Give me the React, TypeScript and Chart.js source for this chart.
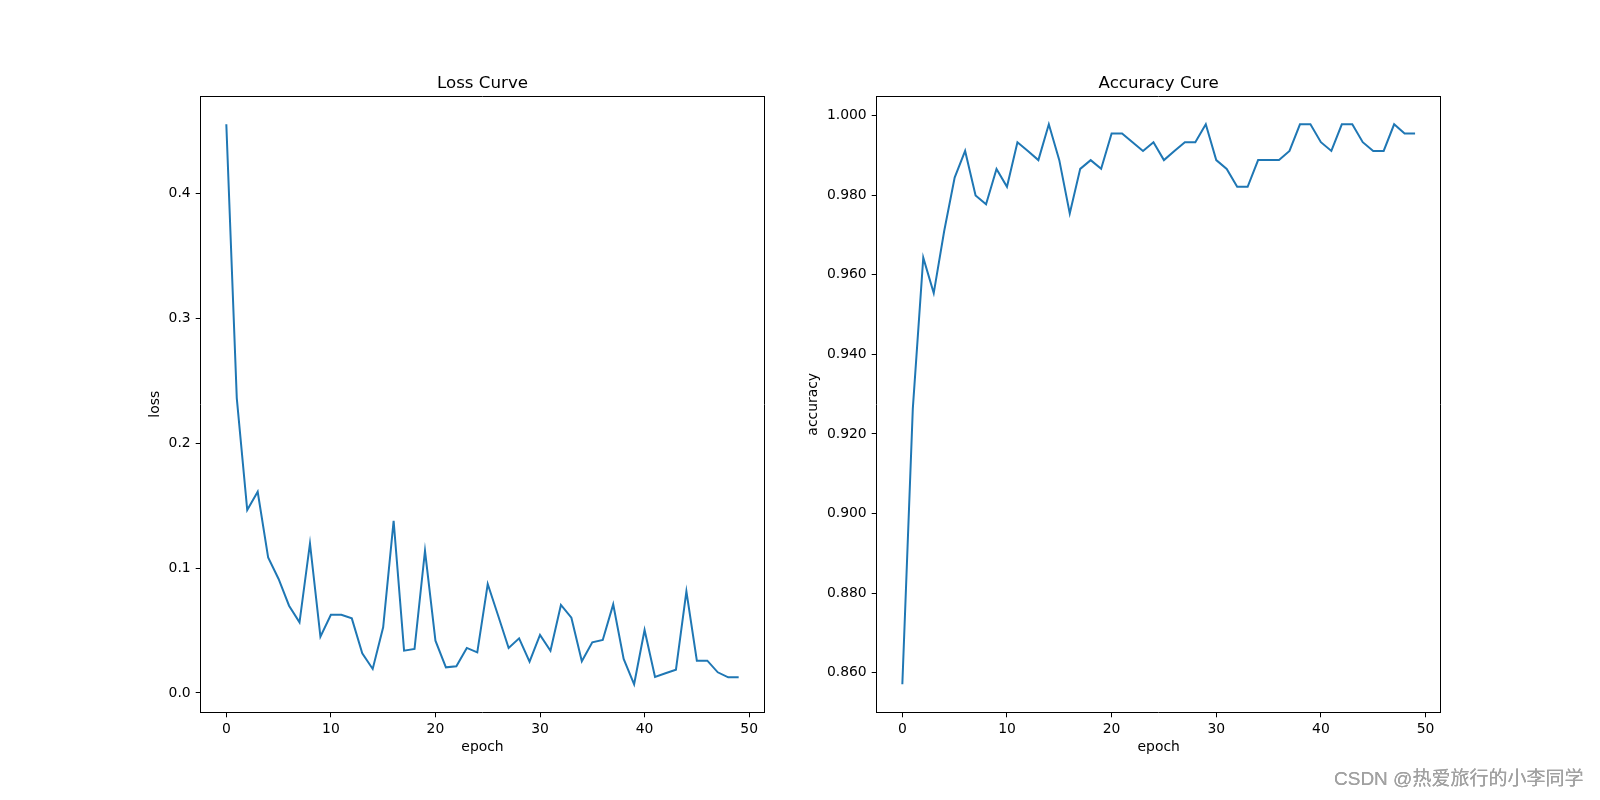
import React, { useEffect, useRef } from "react";
import { Chart, registerables } from "chart.js";

Chart.register(...registerables);

// ---------- data ----------
const epochs = [
  0, 1, 2, 3, 4, 5, 6, 7, 8, 9, 10, 11, 12, 13, 14, 15, 16, 17, 18, 19, 20, 21, 22, 23, 24,
  25, 26, 27, 28, 29, 30, 31, 32, 33, 34, 35, 36, 37, 38, 39, 40, 41, 42, 43, 44, 45, 46, 47, 48, 49,
];

const lossValues = [
  0.4552, 0.236, 0.1464, 0.161, 0.1085, 0.0912, 0.0698, 0.0565, 0.1197, 0.045,
  0.0626, 0.0626, 0.0597, 0.0317, 0.0192, 0.0525, 0.1378, 0.0338, 0.0352, 0.1138,
  0.0418, 0.0205, 0.0213, 0.036, 0.0325, 0.0872, 0.0618, 0.036, 0.0437, 0.025,
  0.0464, 0.0338, 0.0704, 0.0602, 0.0253, 0.0405, 0.0424, 0.0709, 0.0272, 0.0069,
  0.0504, 0.0128, 0.0157, 0.0186, 0.0813, 0.0258, 0.0258, 0.0165, 0.0125, 0.0125,
];

const accValues = [
  0.8571, 0.9263, 0.9643, 0.9554, 0.971, 0.9844, 0.9911, 0.9799, 0.9777, 0.9866,
  0.9821, 0.9933, 0.9911, 0.9888, 0.9978, 0.9888, 0.9754, 0.9866, 0.9888, 0.9866,
  0.9955, 0.9955, 0.9933, 0.9911, 0.9933, 0.9888, 0.9911, 0.9933, 0.9933, 0.9978,
  0.9888, 0.9866, 0.9821, 0.9821, 0.9888, 0.9888, 0.9888, 0.9911, 0.9978, 0.9978,
  0.9933, 0.9911, 0.9978, 0.9978, 0.9933, 0.9911, 0.9911, 0.9978, 0.9955, 0.9955,
];

const epochTicks = [0, 10, 20, 30, 40, 50];
const lossTicks = [0, 0.1, 0.2, 0.3, 0.4];
const accTicks = [0.86, 0.88, 0.9, 0.92, 0.94, 0.96, 0.98, 1.0];

const lossTitle = "Loss Curve";
const accTitle = "Accuracy Cure";
const xLabel = "epoch";
const lossLabel = "loss";
const accLabel = "accuracy";
const watermark = "CSDN @热爱旅行的小李同学";

// ---------- helpers ----------
const FONT = "'DejaVu Sans', sans-serif";
const LINE_COLOR = "#1f77b4";

function padRange(vals: number[]): [number, number] {
  const lo = Math.min(...vals);
  const hi = Math.max(...vals);
  const m = (hi - lo) * 0.05;
  return [lo - m, hi + m];
}

type PanelOpts = {
  title: string;
  yLabel: string;
  values: number[];
  yTicks: number[];
  decimals: number;
  padding: { left: number; right: number; top: number; bottom: number };
  yAxisW: number;
};

const X_AXIS_H = 43.5;
const TOP_AXIS_H = 22.6;

function makeConfig(o: PanelOpts): any {
  const [xMin, xMax] = padRange(epochs);
  const [yMin, yMax] = padRange(o.values);
  const tickFont = { family: FONT, size: 13.9, lineHeight: 1.2 };
  const titleFont = { family: FONT, size: 16.67, lineHeight: 1.2 };
  const tickGrid = {
    display: true,
    drawOnChartArea: false,
    drawTicks: true,
    tickLength: 5,
    color: "#000",
    lineWidth: 1,
  };
  const border = { display: true, color: "#000", width: 1 };
  return {
    type: "line",
    data: {
      datasets: [
        {
          data: epochs.map((e, i) => ({ x: e, y: o.values[i] })),
          borderColor: LINE_COLOR,
          borderWidth: 2,
          pointRadius: 0,
          fill: false,
          tension: 0,
        },
      ],
    },
    options: {
      responsive: false,
      maintainAspectRatio: false,
      animation: false,
      events: [],
      layout: { padding: o.padding },
      plugins: {
        legend: { display: false },
        tooltip: { enabled: false },
        title: { display: false },
      },
      scales: {
        x: {
          type: "linear",
          position: "bottom",
          min: xMin,
          max: xMax,
          afterBuildTicks: (s: any) => {
            s.ticks = epochTicks.map((v) => ({ value: v }));
          },
          afterFit: (s: any) => {
            s.height = X_AXIS_H;
          },
          ticks: {
            font: tickFont,
            color: "#000",
            padding: 4,
            maxRotation: 0,
            autoSkip: false,
            callback: (v: any) => String(v),
          },
          grid: tickGrid,
          border,
          title: {
            display: true,
            text: xLabel,
            font: tickFont,
            color: "#000",
            padding: { top: 0, bottom: 0 },
          },
        },
        y: {
          type: "linear",
          position: "left",
          min: yMin,
          max: yMax,
          afterBuildTicks: (s: any) => {
            s.ticks = o.yTicks.map((v) => ({ value: v }));
          },
          afterFit: (s: any) => {
            s.width = o.yAxisW;
          },
          ticks: {
            font: tickFont,
            color: "#000",
            padding: 5,
            autoSkip: false,
            callback: (v: any) => Number(v).toFixed(o.decimals),
          },
          grid: tickGrid,
          border,
          title: {
            display: true,
            text: o.yLabel,
            font: tickFont,
            color: "#000",
            padding: { top: 0, bottom: 0 },
          },
        },
        xTop: {
          type: "linear",
          position: "top",
          min: xMin,
          max: xMax,
          afterFit: (s: any) => {
            s.height = TOP_AXIS_H;
          },
          ticks: { display: false },
          grid: { display: false, drawTicks: false },
          border,
          title: {
            display: true,
            text: o.title,
            font: titleFont,
            color: "#000",
            padding: { top: 0, bottom: 0 },
          },
        },
        yRight: {
          type: "linear",
          position: "right",
          min: yMin,
          max: yMax,
          afterFit: (s: any) => {
            s.width = 0;
          },
          ticks: { display: false },
          grid: { display: false, drawTicks: false },
          border,
        },
      },
    },
  };
}

function Panel({ left, opts }: { left: number; opts: PanelOpts }) {
  const ref = useRef<HTMLCanvasElement | null>(null);
  useEffect(() => {
    if (!ref.current) return;
    const chart = new Chart(ref.current, makeConfig(opts));
    return () => chart.destroy();
  }, []);
  return (
    <canvas
      ref={ref}
      width={800}
      height={800}
      style={{ position: "absolute", left, top: 0, width: 800, height: 800, display: "block" }}
    />
  );
}

export default function App() {
  const lossOpts: PanelOpts = {
    title: lossTitle,
    yLabel: lossLabel,
    values: lossValues,
    yTicks: lossTicks,
    decimals: 1,
    padding: { left: 147.2, right: 35.7, top: 73.7, bottom: 44.2 },
    yAxisW: 53.5,
  };
  const accOpts: PanelOpts = {
    title: accTitle,
    yLabel: accLabel,
    values: accValues,
    yTicks: accTicks,
    decimals: 3,
    padding: { left: 5.4, right: 159.3, top: 73.7, bottom: 44.2 },
    yAxisW: 71.3,
  };
  return (
    <div
      style={{
        position: "absolute",
        left: 0,
        top: 0,
        width: 1600,
        height: 800,
        background: "#fff",
        overflow: "hidden",
      }}
    >
      <Panel left={0} opts={lossOpts} />
      <Panel left={800} opts={accOpts} />
      <div
        style={{
          position: "absolute",
          left: 1334,
          top: 767,
          fontFamily: "'Liberation Sans', 'Noto Sans CJK SC', sans-serif",
          fontSize: 19,
          fontWeight: 400,
          lineHeight: "24px",
          color: "#a2a2a2",
          textShadow: "0 0 0.6px rgba(100,100,100,0.7)",
          whiteSpace: "nowrap",
        }}
      >
        {watermark}
      </div>
    </div>
  );
}
